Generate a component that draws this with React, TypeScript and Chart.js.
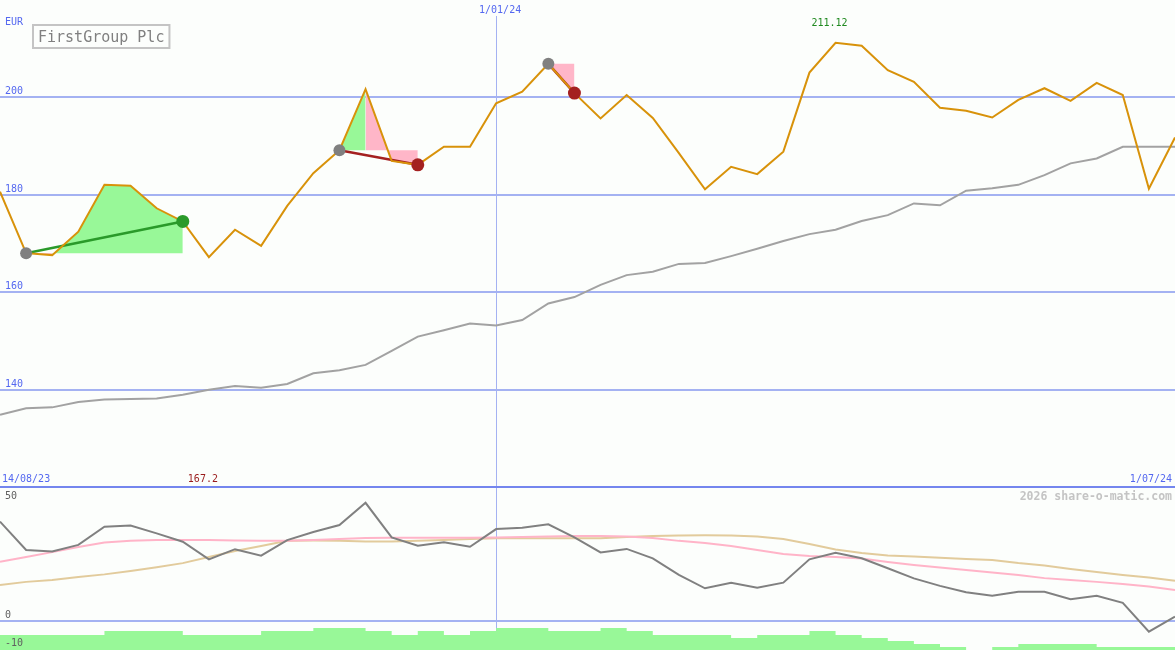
import { useEffect, useRef } from "react";
import { Chart, registerables } from "chart.js";

Chart.register(...registerables);

// ---------- DATA ----------
const dates = [
  "21/08/23", "28/08/23", "4/09/23", "11/09/23", "18/09/23", "25/09/23", "2/10/23", "9/10/23",
  "16/10/23", "23/10/23", "30/10/23", "6/11/23", "13/11/23", "20/11/23", "27/11/23", "4/12/23",
  "11/12/23", "18/12/23", "25/12/23", "1/01/24", "8/01/24", "15/01/24", "22/01/24", "29/01/24",
  "5/02/24", "12/02/24", "19/02/24", "26/02/24", "4/03/24", "11/03/24", "18/03/24", "25/03/24",
  "1/04/24", "8/04/24", "15/04/24", "22/04/24", "29/04/24", "6/05/24", "13/05/24", "20/05/24",
  "27/05/24", "3/06/24", "10/06/24", "17/06/24", "24/06/24", "1/07/24",
];

const price = [
  180.6, 168.0, 167.6, 172.4, 182.0, 181.8, 177.2, 174.5,
  167.2, 172.8, 169.5, 177.7, 184.4, 189.1, 201.6, 186.9,
  186.1, 189.8, 189.8, 198.7, 201.1, 206.8, 200.8, 195.6,
  200.4, 195.7, 188.5, 181.1, 185.7, 184.2, 188.8, 205.0,
  211.12, 210.5, 205.5, 203.1, 197.8, 197.2, 195.8, 199.4,
  201.8, 199.2, 202.9, 200.4, 181.2, 191.7,
];

const movingAvg = [
  134.9, 136.2, 136.4, 137.5, 138.0, 138.1, 138.2, 139.0,
  140.0, 140.8, 140.4, 141.2, 143.4, 144.0, 145.1, 148.0,
  150.9, 152.2, 153.6, 153.2, 154.3, 157.7, 159.0, 161.5,
  163.5, 164.2, 165.8, 166.0, 167.4, 168.9, 170.5, 171.9,
  172.8, 174.6, 175.8, 178.2, 177.8, 180.8, 181.3, 182.0,
  184.0, 186.4, 187.4, 189.8, 189.8, 189.8,
];

const oscillator = [
  37.1, 26.5, 25.9, 28.4, 35.2, 35.6, 32.7, 29.6,
  23.0, 26.8, 24.4, 30.2, 33.2, 35.8, 44.1, 31.2,
  28.1, 29.4, 27.7, 34.3, 34.8, 36.1, 31.2, 25.6,
  26.9, 23.4, 17.2, 12.2, 14.3, 12.4, 14.3, 23.0,
  25.5, 23.4, 19.7, 15.9, 13.1, 10.7, 9.4, 10.9,
  10.9, 8.1, 9.4, 6.8, -4.0, 1.6,
];

const oscFast = [
  22.1, 23.9, 25.7, 27.6, 29.3, 29.9, 30.2, 30.2,
  30.2, 30.0, 29.9, 29.9, 30.2, 30.6, 31.0, 31.1,
  31.1, 31.1, 31.1, 31.2, 31.3, 31.5, 31.7, 31.7,
  31.5, 31.0, 29.9, 29.1, 28.0, 26.5, 25.0, 24.3,
  23.9, 23.3, 22.0, 20.9, 20.0, 19.0, 18.1, 17.2,
  16.0, 15.3, 14.6, 13.8, 12.9, 11.6,
];

const oscSlow = [
  13.4, 14.6, 15.3, 16.4, 17.4, 18.7, 20.1, 21.6,
  23.9, 26.1, 28.0, 29.9, 30.0, 29.9, 29.7, 29.7,
  29.9, 30.2, 30.6, 30.9, 30.9, 30.9, 30.9, 30.9,
  31.3, 31.7, 31.9, 32.0, 31.9, 31.5, 30.6, 28.7,
  26.7, 25.4, 24.4, 24.1, 23.6, 23.1, 22.8, 21.6,
  20.7, 19.4, 18.3, 17.2, 16.2, 15.0,
];

// histogram value held from each date to the next one
const histogram = [
  -5.2, -5.2, -5.2, -5.2, -3.7, -3.7, -3.7, -5.2,
  -5.2, -5.2, -3.7, -3.7, -2.6, -2.6, -3.7, -5.2,
  -3.7, -5.2, -3.7, -2.6, -2.6, -3.7, -3.7, -2.6,
  -3.7, -5.2, -5.2, -5.2, -6.3, -5.2, -5.2, -3.7,
  -5.2, -6.3, -7.5, -8.6, -9.7, -11, -9.7, -8.6,
  -8.6, -8.6, -9.7, -9.7, -9.7, -9.7,
];

const priceTicks = [140, 160, 180, 200];
const oscTicks = [50, 0, -10];
const tradeEntries = [1, 13, 21];
const tradeExits = [7, 16, 22];

const titleText = "FirstGroup Plc";
const currencyText = "EUR";
const startLabel = "14/08/23";
const endLabel = "1/07/24";
const markerIndex = 19;
const markerLabel = "1/01/24";
const creditText = "2026 share-o-matic.com";

// ---------- STYLE ----------
const W = 1175;
const H = 650;
const BG = "#fcfefc";
const GRID = "#a4b2f2";
const SEP = "#7486ee";
const AXIS_TXT = "#5468f0";
const MONO = "'DejaVu Sans Mono', 'Liberation Mono', monospace";
const GREEN_FILL = "#98f898";
const PINK_FILL = "#ffb6c8";

export default function App() {
  const ref = useRef<HTMLCanvasElement | null>(null);

  useEffect(() => {
    const canvas = ref.current;
    if (!canvas) return;

    const datasets: any[] = [];

    // entry / exit dots
    datasets.push({
      label: "entry",
      data: price.map((v, i) => (tradeEntries.includes(i) ? v : null)),
      yAxisID: "y",
      showLine: false,
      pointRadius: 6,
      pointBorderWidth: 0,
      pointBackgroundColor: "#808080",
      order: 0,
    });
    datasets.push({
      label: "exit",
      data: price.map((v, i) => (tradeExits.includes(i) ? v : null)),
      yAxisID: "y",
      showLine: false,
      pointRadius: 6.5,
      pointBorderWidth: 0,
      pointBackgroundColor: price.map((v, i) => {
        const t = tradeExits.indexOf(i);
        if (t < 0) return "#000";
        return v >= price[tradeEntries[t]] ? "#2a9a2a" : "#a42020";
      }),
      order: 0,
    });

    datasets.push({
      label: "price",
      data: price,
      yAxisID: "y",
      borderColor: "#d8920a",
      borderWidth: 2,
      pointRadius: 0,
      fill: false,
      order: 1,
    });

    // trade lines (under the price line)
    tradeEntries.forEach((e, t) => {
      const x = tradeExits[t];
      const win = price[x] >= price[e];
      datasets.push({
        label: "trade" + t,
        data: price.map((v, i) => (i === e || i === x ? v : null)),
        yAxisID: "y",
        spanGaps: true,
        borderColor: win ? "#2a9a2a" : "#a42020",
        borderWidth: 2.5,
        pointRadius: 0,
        fill: false,
        order: 2,
      });
    });

    datasets.push({
      label: "avg",
      data: movingAvg,
      yAxisID: "y",
      borderColor: "#a2a2a2",
      borderWidth: 2,
      pointRadius: 0,
      fill: false,
      order: 3,
    });
    datasets.push({
      label: "osc",
      data: oscillator,
      yAxisID: "y2",
      borderColor: "#808080",
      borderWidth: 2,
      pointRadius: 0,
      fill: false,
      order: 4,
    });
    datasets.push({
      label: "fast",
      data: oscFast,
      yAxisID: "y2",
      borderColor: "#ffb4c8",
      borderWidth: 2,
      pointRadius: 0,
      fill: false,
      order: 5,
    });
    datasets.push({
      label: "slow",
      data: oscSlow,
      yAxisID: "y2",
      borderColor: "#e2cb9c",
      borderWidth: 2,
      pointRadius: 0,
      fill: false,
      order: 5,
    });
    datasets.push({
      label: "hist",
      data: histogram,
      yAxisID: "y2",
      stepped: "before",
      borderColor: "rgba(0,0,0,0)",
      borderWidth: 0,
      pointRadius: 0,
      backgroundColor: GREEN_FILL,
      fill: "start",
      order: 6,
    });

    // trade area fills: runs of segments coloured by each segment's end vs. the entry level
    tradeEntries.forEach((e, t) => {
      const x = tradeExits[t];
      const level = price[e];
      let runStart = e;
      for (let k = e; k < x; k++) {
        const up = price[k + 1] >= level;
        const nextUp = k + 1 < x ? price[k + 2] >= level : !up;
        if (k + 1 === x || nextUp !== up) {
          const a = runStart;
          const b = k + 1;
          datasets.push({
            label: `run${t}-${a}`,
            data: price.map((v, i) => (i >= a && i <= b ? v : null)),
            yAxisID: "y",
            borderColor: "rgba(0,0,0,0)",
            borderWidth: 0,
            pointRadius: 0,
            backgroundColor: up ? GREEN_FILL : PINK_FILL,
            fill: { value: level },
            order: 7,
          });
          runStart = k + 1;
        }
      }
    });

    const decor = {
      id: "decor",
      beforeDraw(chart: any) {
        const ctx = chart.ctx;
        ctx.save();
        ctx.fillStyle = BG;
        ctx.fillRect(0, 0, chart.width, chart.height);
        ctx.restore();
      },
      beforeDatasetsDraw(chart: any) {
        const ctx = chart.ctx;
        const y = chart.scales.y;
        const y2 = chart.scales.y2;
        const xs = chart.scales.x;
        const w = chart.width;
        ctx.save();
        ctx.fillStyle = GRID;
        priceTicks.forEach((v) => {
          const py = Math.round(y.getPixelForValue(v));
          ctx.fillRect(0, py - 1, w, 2);
        });
        const p0 = Math.round(y2.getPixelForValue(0));
        ctx.fillRect(0, p0 - 1, w, 2);
        const mx = Math.round(xs.getPixelForValue(markerIndex));
        ctx.fillRect(mx, 16, 1, chart.height - 16);
        ctx.fillStyle = SEP;
        const p50 = Math.round(y2.getPixelForValue(oscTicks[0]));
        ctx.fillRect(0, p50 - 1, w, 2);
        ctx.restore();
      },
      afterDatasetsDraw(chart: any) {
        const ctx = chart.ctx;
        const y = chart.scales.y;
        const y2 = chart.scales.y2;
        const xs = chart.scales.x;
        const w = chart.width;
        ctx.save();
        ctx.textBaseline = "alphabetic";

        ctx.font = `10px ${MONO}`;
        ctx.fillStyle = AXIS_TXT;
        ctx.textAlign = "left";
        ctx.fillText(currencyText, 5, 25);
        priceTicks.forEach((v) => {
          ctx.fillText(String(v), 5, Math.round(y.getPixelForValue(v)) - 3);
        });
        const p50 = Math.round(y2.getPixelForValue(oscTicks[0]));
        ctx.fillText(startLabel, 2, p50 - 5);
        ctx.textAlign = "right";
        ctx.fillText(endLabel, w - 3, p50 - 5);
        ctx.textAlign = "center";
        ctx.fillText(markerLabel, xs.getPixelForValue(markerIndex) + 4, 13);

        // max / min
        let hi = 0;
        let lo = 0;
        price.forEach((v, i) => {
          if (v > price[hi]) hi = i;
          if (v < price[lo]) lo = i;
        });
        ctx.fillStyle = "#208a20";
        ctx.fillText(String(price[hi]), xs.getPixelForValue(hi) - 6, 26);
        ctx.fillStyle = "#9a1c1c";
        ctx.fillText(String(price[lo]), xs.getPixelForValue(lo) - 6, p50 - 5);

        // oscillator ticks
        ctx.textAlign = "left";
        ctx.fillStyle = "#606060";
        ctx.fillText(String(oscTicks[0]), 5, p50 + 12);
        ctx.fillText(String(oscTicks[1]), 5, Math.round(y2.getPixelForValue(oscTicks[1])) - 3);
        ctx.fillText(String(oscTicks[2]), 5, Math.round(y2.getPixelForValue(oscTicks[2])) - 2);

        // credit
        ctx.font = `bold 11.5px ${MONO}`;
        ctx.fillStyle = "#c4c4c4";
        ctx.textAlign = "right";
        ctx.fillText(creditText, w - 3, p50 + 13);

        // title box
        ctx.font = `15px ${MONO}`;
        const tw = ctx.measureText(titleText).width;
        ctx.fillStyle = BG;
        ctx.fillRect(33, 25, tw + 10, 23);
        ctx.strokeStyle = "#c4c4c4";
        ctx.lineWidth = 2;
        ctx.strokeRect(33, 25, tw + 10, 23);
        ctx.fillStyle = "#808080";
        ctx.textAlign = "left";
        ctx.fillText(titleText, 38, 42);
        ctx.restore();
      },
    };

    const chart = new Chart(canvas, {
      type: "line",
      data: { labels: dates, datasets },
      options: {
        responsive: false,
        animation: false,
        devicePixelRatio: 1,
        layout: { padding: 0, autoPadding: false },
        events: [],
        plugins: {
          legend: { display: false },
          tooltip: { enabled: false },
          title: { display: false },
        },
        elements: { line: { tension: 0 } },
        scales: {
          x: { type: "category", display: false, offset: false },
          y: { display: false, min: 86.68, max: 219.88 },
          y2: { display: false, min: -10.82, max: 231.72 },
        },
      },
      plugins: [decor],
    } as any);

    return () => chart.destroy();
  }, []);

  return (
    <div style={{ position: "fixed", left: 0, top: 0, width: W, height: H, background: BG }}>
      <canvas ref={ref} width={W} height={H} style={{ display: "block", width: W, height: H }} />
    </div>
  );
}
